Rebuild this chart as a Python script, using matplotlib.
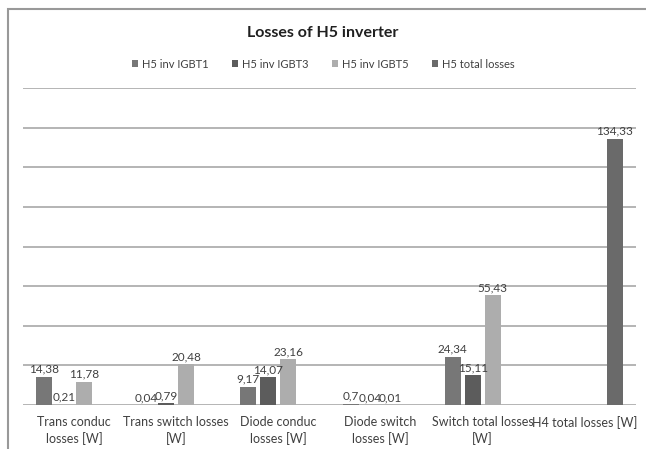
import matplotlib
matplotlib.use("Agg")
import matplotlib.pyplot as plt
import numpy as np
from matplotlib.patches import Rectangle

plt.rcParams['font.family'] = ['Lato', 'DejaVu Sans']

categories = ["Trans conduc\nlosses [W]", "Trans switch losses\n[W]", "Diode conduc\nlosses [W]",
              "Diode switch\nlosses [W]", "Switch total losses\n[W]", "H4 total losses [W]"]
series_names = ["H5 inv IGBT1", "H5 inv IGBT3", "H5 inv IGBT5", "H5 total losses"]
igbt1 = [14.38, 0.04, 9.17, 0.7, 24.34, None]
igbt3 = [0.21, 0.79, 14.07, 0.04, 15.11, None]
igbt5 = [11.78, 20.48, 23.16, 0.01, 55.43, None]
total = [None, None, None, None, None, 134.33]
colors = ["#777777", "#5c5c5c", "#adadad", "#6a6a6a"]

fig = plt.figure(figsize=(6.46, 4.49), dpi=100)
W, H = 646, 449
ax = fig.add_axes([23 / W, 1 - 405 / H, (636 - 23) / W, (405 - 88) / H])

x = np.arange(len(categories))
width = 0.157
step = 0.196
offsets = [-1.5 * step, -0.5 * step, 0.5 * step, 1.5 * step]
for s, (vals, name, col, off) in enumerate(zip([igbt1, igbt3, igbt5, total], series_names, colors, offsets)):
    xs = [xi + off for xi, v in zip(x, vals) if v is not None]
    vs = [v for v in vals if v is not None]
    ax.bar(xs, vs, width=width, color=col, label=name, zorder=3)
    for xi, v in zip(xs, vs):
        ax.text(xi, v + 1.0, f"{v:g}".replace('.', ','), ha='center', va='bottom',
                fontsize=8.5, color='#404040', zorder=4)

ax.set_xlim(-0.5, 5.5)
ax.set_ylim(0, 160)
ax.set_yticks(np.arange(0, 161, 20))
ax.yaxis.grid(True, color='#a8a8a8', linewidth=1.2, zorder=0)
ax.set_yticklabels([])
ax.tick_params(axis='both', length=0)
ax.set_xticks(x)
ax.set_xticklabels(categories, fontsize=9, color='#404040', linespacing=1.4)
ax.tick_params(axis='x', pad=8)
for sp in ax.spines.values():
    sp.set_visible(False)

fig.text(0.5, 1 - 33 / H, "Losses of H5 inverter", ha='center', va='center',
         fontsize=11.5, fontweight='bold', color='#202020')
fig.legend(loc='center', bbox_to_anchor=(0.5, 1 - 64 / H), ncol=4, frameon=False,
           fontsize=8, handlelength=0.6, handleheight=0.6, handletextpad=0.3,
           columnspacing=2.1, labelcolor='#404040')

fig.patches.append(Rectangle((8 / W, -0.1), 1.2, 1.1 - 9.5 / H, transform=fig.transFigure,
                             fill=False, edgecolor='#999999', linewidth=1.5))

fig.savefig("out.png", dpi=100)
